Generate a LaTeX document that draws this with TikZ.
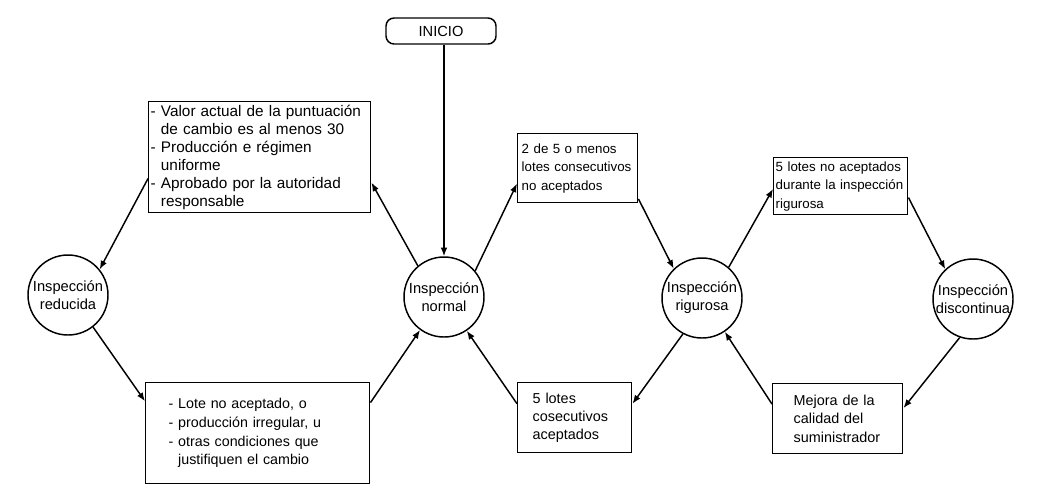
\documentclass[tikz,border=0pt]{standalone}
\usepackage{fontspec}
\setmainfont{Liberation Sans}
\usetikzlibrary{arrows.meta}

\begin{document}
\begin{tikzpicture}[x=0.75pt,y=-0.75pt,
                  font=\fontsize{10}{13.8}\selectfont,
                  ini/.style={draw,line width=1.1pt,rounded corners=6pt,minimum width=82.5pt,minimum height=19.5pt,font=\fontsize{11}{13}\selectfont},
                  est/.style={draw,circle,line width=1.1pt,minimum size=60pt,inner sep=0pt,align=center,font=\fontsize{11}{13.5}\selectfont},
                  cond/.style={draw,line width=1.1pt,anchor=north west,align=left,inner ysep=1.5pt},
                  arr/.style={-{Latex[length=6.5pt,width=5pt]},line width=1.1pt}
                ]
                \useasboundingbox (0,0) rectangle (1049,501);
                \node[ini] (inicio) at (441,31) {INICIO};
                \node[est] (reducida) at (68,295) {Inspección\\reducida};
                \node[est] (normal) at (444,297) {Inspección\\normal};
                \node[est] (rigurosa) at (702,298) {Inspección\\rigurosa};
                \node[est] (discontinua) at (973,299) {Inspección\\discontinua};
                
                \node[cond,minimum width=166.5pt,minimum height=83.25pt,inner xsep=1.5pt,text width=163.5pt,font=\fontsize{11.5}{13.5}\selectfont] (cond1) at (148,101) {- Valor actual de la puntuación\\\hphantom{- }de cambio es al menos 30\\- Producción e régimen\\\hphantom{- }uniforme\\- Aprobado por la autoridad\\\hphantom{- }responsable};
                \node[cond,minimum width=168pt,minimum height=75.75pt,inner xsep=17.25pt,text width=133.5pt,font=\fontsize{10.7}{14}\selectfont] (cond2) at (145,382) {- Lote no aceptado, o\\- producción irregular, u\\- otras condiciones que\\\hphantom{- }justifiquen el cambio};
                \node[cond,minimum width=90pt,minimum height=51.75pt,inner xsep=3pt,text width=84pt] (cond3) at (517,133) {2 de 5 o menos\\lotes consecutivos\\no aceptados};
                \node[cond,minimum width=100.5pt,minimum height=42.75pt,inner xsep=1.5pt,text width=97.5pt] (cond4) at (773,157) {5 lotes no aceptados\\durante la inspección\\rigurosa};
                \node[cond,minimum width=85.5pt,minimum height=52.5pt,inner xsep=11.25pt,text width=63pt,font=\fontsize{10.8}{13.8}\selectfont] (cond5) at (517,382) {5 lotes\\cosecutivos\\aceptados};
                \node[cond,minimum width=97.5pt,minimum height=52.5pt,inner xsep=15.75pt,text width=66pt,font=\fontsize{10.8}{13.8}\selectfont] (cond6) at (772,383) {Mejora de la\\calidad del\\suministrador};
                
                \draw[arr] (inicio.south -| normal.north) -- (normal.north);
                \draw[arr] ([yshift=-16pt]cond1.west) -- (reducida.39);
                \draw[arr] (normal.130) -- ([yshift=-19pt]cond1.east);
                \draw[arr] (reducida.-52) -- ([yshift=24pt]cond2.west);
                \draw[arr] ([yshift=23pt]cond2.east) -- (normal.-126);
                \draw[arr] (normal.40) -- ([yshift=-11.5pt]cond3.west);
                \draw[arr] ([yshift=-23pt]cond3.east) -- (rigurosa.134);
                \draw[arr] (rigurosa.49) -- ([yshift=-2pt]cond4.west);
                \draw[arr] ([yshift=-8.5pt]cond4.east) -- (discontinua.133);
                \draw[arr] (discontinua.-109) -- ([yshift=8pt]cond6.east);
                \draw[arr] ([yshift=11pt]cond6.west) -- (rigurosa.-56);
                \draw[arr] (rigurosa.-118) -- ([yshift=10.5pt]cond5.east);
                \draw[arr] ([yshift=10.5pt]cond5.west) -- (normal.-56);
                \end{tikzpicture}
\end{document}
